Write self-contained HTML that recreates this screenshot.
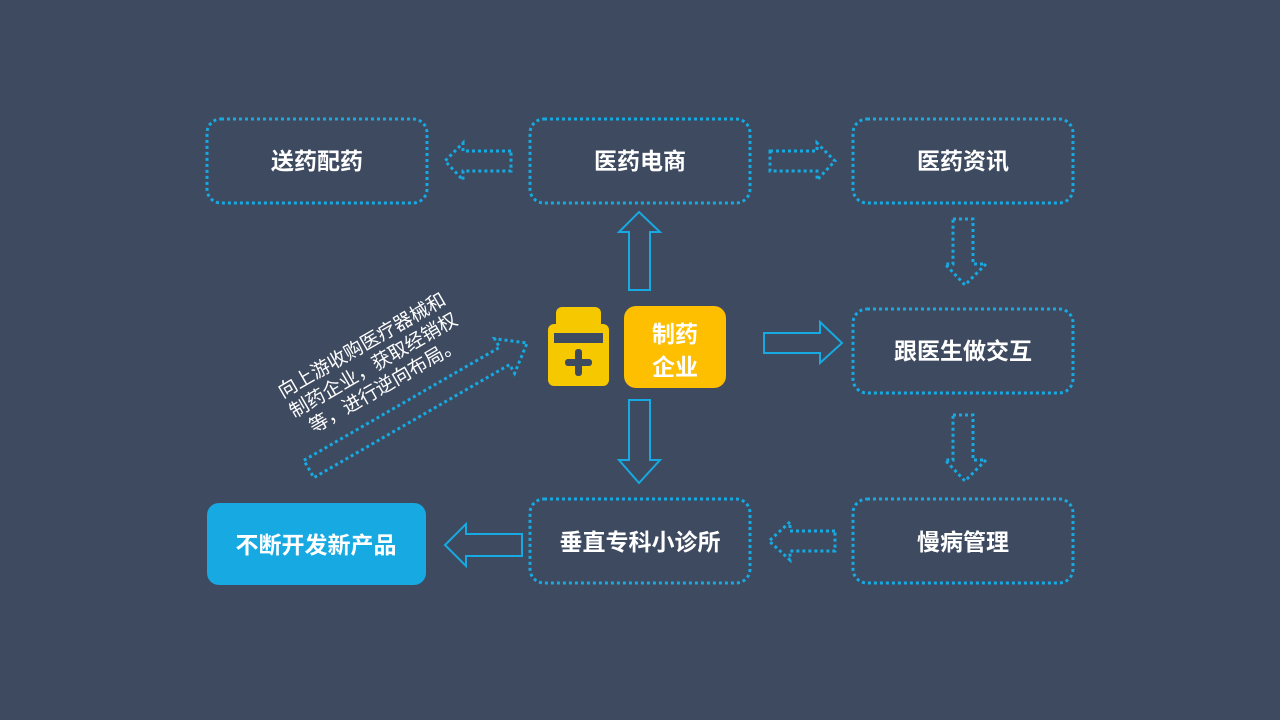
<!DOCTYPE html>
<html><head><meta charset="utf-8"><style>
html,body{margin:0;padding:0;background:#3e4a5f;}
svg{display:block}
text{font-family:"Liberation Sans","Noto Sans CJK SC",sans-serif;fill:#fff;}
.b{font-weight:bold;font-size:23px;text-anchor:middle;}
.d{fill:none;stroke:#17a9e1;stroke-width:3;stroke-dasharray:3 3;}
.s{fill:none;stroke:#17a9e1;stroke-width:2;}
</style></head><body>
<svg width="1280" height="720" viewBox="0 0 1280 720">
<rect width="1280" height="720" fill="#3e4a5f"/>
<rect class="d" x="207" y="119" width="220" height="84" rx="14"/>
<rect class="d" x="530" y="119" width="220" height="84" rx="14"/>
<rect class="d" x="853" y="119" width="220" height="84" rx="14"/>
<rect class="d" x="853" y="309" width="220" height="84" rx="14"/>
<rect class="d" x="853" y="499" width="220" height="84" rx="14"/>
<rect class="d" x="530" y="499" width="220" height="84" rx="14"/>
<rect x="207" y="503" width="219" height="82" rx="12" fill="#17a9e1"/>
<text class="b" x="317" y="169">送药配药</text>
<text class="b" x="640" y="169">医药电商</text>
<text class="b" x="963" y="169">医药资讯</text>
<text class="b" x="963" y="359">跟医生做交互</text>
<text class="b" x="963" y="550">慢病管理</text>
<text class="b" x="640" y="550">垂直专科小诊所</text>
<text class="b" x="316" y="553">不断开发新产品</text>
<polygon class="d" points="511,151 463,151 463,143 445,161 463,180 463,171 511,171"/>
<polygon class="d" points="770,151 817,151 817,143 835,161 817,180 817,171 770,171"/>
<polygon class="d" points="953,219 973,219 973,264 986,264 965,285 945,264 953,264"/>
<polygon class="d" points="953,415 973,415 973,460 986,460 965,481 945,460 953,460"/>
<polygon class="d" points="835,531 790,531 790,522 769,541 790,560 790,551 835,551"/>
<polygon class="s" points="629,290 650,290 650,232 660,232 639,212 619,232 629,232"/>
<polygon class="s" points="629,400 650,400 650,460 660,460 639,483 619,460 629,460"/>
<polygon class="s" points="764,333 820,333 820,322 842,343 820,363 820,353 764,353"/>
<polygon class="s" points="522,534 466,534 466,524 445,545 466,566 466,556 522,556"/>
<g transform="translate(418,406) rotate(-30)">
<polygon class="d" points="-126,-10 100,-10 100,-20 126,0 100,20 100,10 -126,10"/>
</g>
<g transform="translate(376,370) rotate(-30)">
<text x="0" y="-22" font-size="19" text-anchor="middle">向上游收购医疗器械和</text>
<text x="0" y="1" font-size="19" text-anchor="middle">制药企业，获取经销权</text>
<text x="0" y="24" font-size="19" text-anchor="middle">等，进行逆向布局。</text>
</g>
<rect x="556" y="307" width="45" height="22" rx="6" fill="#f5c800"/>
<rect x="548" y="324" width="61" height="62" rx="6" fill="#f5c800"/>
<rect x="554" y="333" width="49" height="10" fill="#3e4a5f"/>
<rect x="565" y="359" width="27" height="7" rx="3" fill="#3e4a5f"/>
<rect x="575" y="349" width="7" height="27" rx="3" fill="#3e4a5f"/>
<rect x="624" y="306" width="102" height="82" rx="12" fill="#fdbf00"/>
<text class="b" x="675" y="342" font-size="25">制药</text>
<text class="b" x="675" y="375" font-size="25">企业</text>
</svg>
</body></html>
